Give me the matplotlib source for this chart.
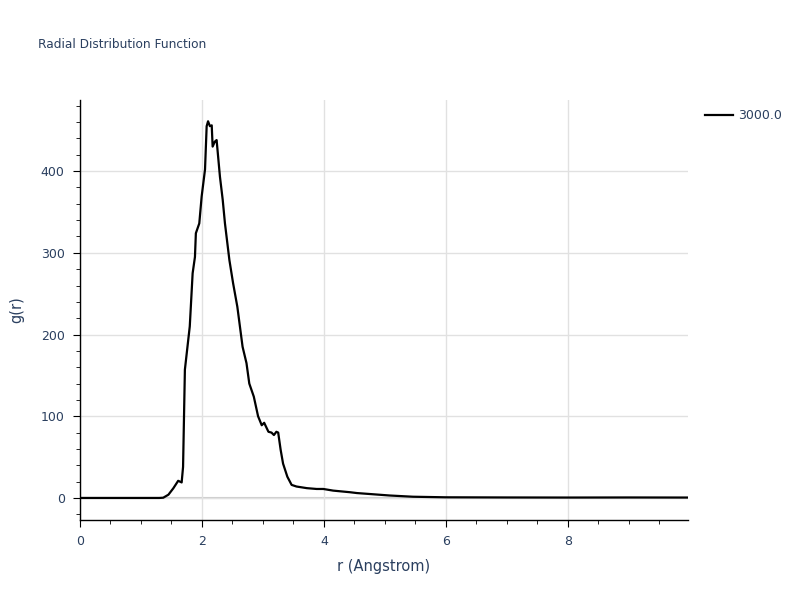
import matplotlib.pyplot as plt
from matplotlib.ticker import MultipleLocator

# radial distribution function
r = [0.0, 0.5, 1.0, 1.30, 1.365, 1.45, 1.53, 1.61, 1.667, 1.69, 1.72, 1.80, 1.847, 1.885,
     1.90, 1.956, 1.995, 2.05, 2.077, 2.10, 2.13, 2.16, 2.175, 2.21, 2.24, 2.25,
     2.295, 2.34, 2.377, 2.45, 2.51, 2.58, 2.666, 2.73, 2.776, 2.85, 2.92, 2.98,
     3.02, 3.09, 3.14, 3.18, 3.22, 3.25, 3.29, 3.33, 3.40, 3.47, 3.55, 3.72,
     3.88, 3.99, 4.15, 4.43, 4.54, 5.08, 5.46, 6.0, 7.0, 8.0, 9.0, 9.97]
g = [0.0, 0.0, 0.0, 0.0, 0.3, 4, 11.8, 21, 19, 38, 157, 210, 275, 295,
     324, 336, 369, 402, 455, 461, 455, 456, 430, 436, 438, 430,
     393, 365, 336, 291, 263, 234, 185, 165, 140, 124, 100, 89,
     92, 81, 80, 77, 81, 80, 59, 42, 26, 16, 14, 12,
     11, 11, 9, 7, 6, 3, 1.5, 0.8, 0.6, 0.5, 0.6, 0.5]
series_label = "3000.0"

text_col = '#2a3f5f'
grid_col = '#e1e1e1'

fig = plt.figure(figsize=(8, 6), dpi=100)
ax = fig.add_axes([0.1, 0.1333, 0.76, 0.70])

ax.axhline(0, color='#cccccc', lw=1.5, zorder=1)
ax.plot(r, g, color='black', lw=1.6, label=series_label, zorder=3)

ax.set_xlim(0, 9.97)
ax.set_ylim(-27, 487)
ax.xaxis.set_major_locator(MultipleLocator(2))
ax.xaxis.set_minor_locator(MultipleLocator(0.5))
ax.yaxis.set_major_locator(MultipleLocator(100))
ax.yaxis.set_minor_locator(MultipleLocator(20))
ax.grid(True, which='major', color=grid_col, lw=1, zorder=0)

for side in ['top', 'right']:
    ax.spines[side].set_visible(False)
for side in ['left', 'bottom']:
    ax.spines[side].set_color('black')
    ax.spines[side].set_linewidth(1)

ax.tick_params(which='major', direction='out', length=5, color='black',
               labelcolor=text_col, labelsize=9, pad=6)
ax.tick_params(which='minor', direction='out', length=3, color='black')

ax.set_xlabel('r (Angstrom)', color=text_col, fontsize=10.5, labelpad=8)
ax.set_ylabel('g(r)', color=text_col, fontsize=10.5, labelpad=12)

fig.text(0.048, 0.925, 'Radial Distribution Function', color=text_col, fontsize=8.7,
         va='center', ha='left')

leg = ax.legend(loc='upper left', bbox_to_anchor=(1.01, 1.005), frameon=False,
                fontsize=9, handlelength=2.2, handletextpad=0.4)
for t in leg.get_texts():
    t.set_color(text_col)

fig.savefig('out.png', dpi=100)
